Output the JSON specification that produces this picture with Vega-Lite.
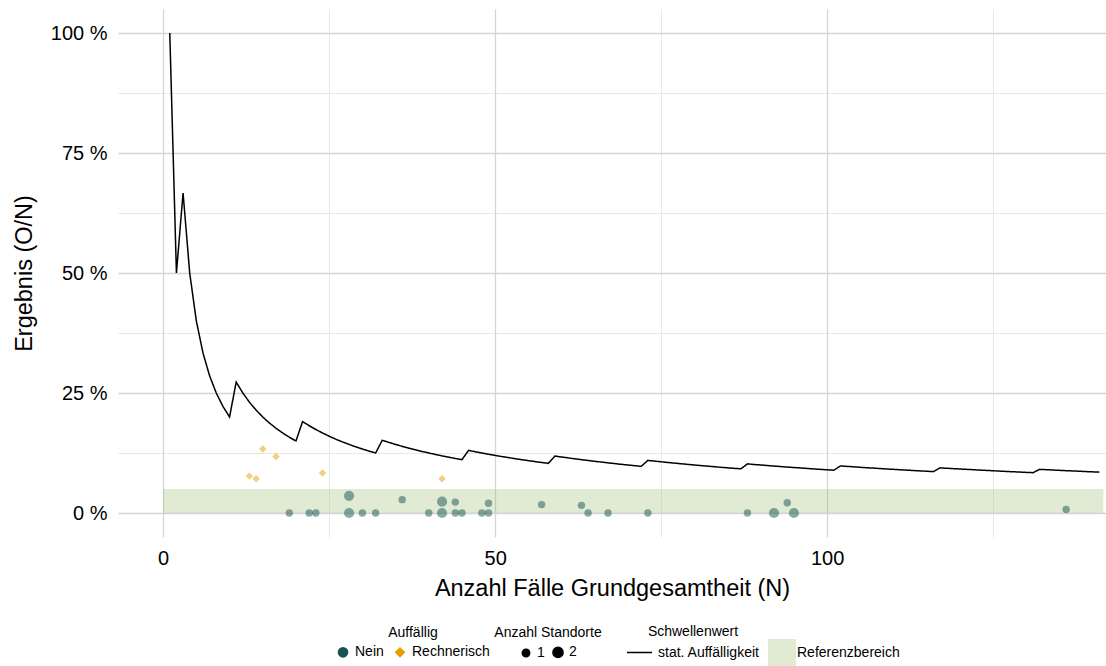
{
  "$schema": "https://vega.github.io/schema/vega-lite/v6.json",
  "width": 988,
  "height": 528,
  "autosize": {"type": "none"},
  "padding": {"left": 118, "top": 9, "right": 0, "bottom": 129},
  "background": "white",
  "config": {
    "view": {"stroke": null},
    "font": "Liberation Sans",
    "axis": {
      "domain": false, "ticks": false,
      "labelFont": "Liberation Sans", "titleFont": "Liberation Sans",
      "labelFontSize": 20, "titleFontSize": 23.5, "titleFontWeight": "normal",
      "labelColor": "#000000", "titleColor": "#000000"
    },
    "legend": {
      "labelFont": "Liberation Sans", "titleFont": "Liberation Sans",
      "labelFontSize": 14, "titleFontSize": 14, "titleFontWeight": "normal",
      "labelColor": "#000000", "titleColor": "#000000",
      "orient": "none", "direction": "horizontal"
    }
  },
  "datasets": {
    "band": [{"N": 0, "N2": 141.6, "p": 0, "p2": 0.05, "ref": "Referenzbereich"}],
    "schwelle": [
      {"N":1,"p":1},{"N":2,"p":0.5},{"N":3,"p":0.6667},{"N":4,"p":0.5},{"N":5,"p":0.4},{"N":6,"p":0.3333},{"N":7,"p":0.2857},{"N":8,"p":0.25},{"N":9,"p":0.2222},{"N":10,"p":0.2},
      {"N":11,"p":0.2727},{"N":12,"p":0.25},{"N":13,"p":0.2308},{"N":14,"p":0.2143},{"N":15,"p":0.2},{"N":16,"p":0.1875},{"N":17,"p":0.1765},{"N":18,"p":0.1667},{"N":19,"p":0.1579},{"N":20,"p":0.15},
      {"N":21,"p":0.1905},{"N":22,"p":0.1818},{"N":23,"p":0.1739},{"N":24,"p":0.1667},{"N":25,"p":0.16},{"N":26,"p":0.1538},{"N":27,"p":0.1481},{"N":28,"p":0.1429},{"N":29,"p":0.1379},{"N":30,"p":0.1333},{"N":31,"p":0.129},{"N":32,"p":0.125},
      {"N":33,"p":0.1515},{"N":34,"p":0.1471},{"N":35,"p":0.1429},{"N":36,"p":0.1389},{"N":37,"p":0.1351},{"N":38,"p":0.1316},{"N":39,"p":0.1282},{"N":40,"p":0.125},{"N":41,"p":0.122},{"N":42,"p":0.119},{"N":43,"p":0.1163},{"N":44,"p":0.1136},{"N":45,"p":0.1111},
      {"N":46,"p":0.1304},{"N":47,"p":0.1277},{"N":48,"p":0.125},{"N":49,"p":0.1224},{"N":50,"p":0.12},{"N":51,"p":0.1176},{"N":52,"p":0.1154},{"N":53,"p":0.1132},{"N":54,"p":0.1111},{"N":55,"p":0.1091},{"N":56,"p":0.1071},{"N":57,"p":0.1053},{"N":58,"p":0.1034},
      {"N":59,"p":0.1186},{"N":60,"p":0.1167},{"N":61,"p":0.1148},{"N":62,"p":0.1129},{"N":63,"p":0.1111},{"N":64,"p":0.1094},{"N":65,"p":0.1077},{"N":66,"p":0.1061},{"N":67,"p":0.1045},{"N":68,"p":0.1029},{"N":69,"p":0.1014},{"N":70,"p":0.1},{"N":71,"p":0.0986},{"N":72,"p":0.0972},
      {"N":73,"p":0.1096},{"N":74,"p":0.1081},{"N":75,"p":0.1067},{"N":76,"p":0.1053},{"N":77,"p":0.1039},{"N":78,"p":0.1026},{"N":79,"p":0.1013},{"N":80,"p":0.1},{"N":81,"p":0.0988},{"N":82,"p":0.0976},{"N":83,"p":0.0964},{"N":84,"p":0.0952},{"N":85,"p":0.0941},{"N":86,"p":0.093},{"N":87,"p":0.092},
      {"N":88,"p":0.1023},{"N":89,"p":0.1011},{"N":90,"p":0.1},{"N":91,"p":0.0989},{"N":92,"p":0.0978},{"N":93,"p":0.0968},{"N":94,"p":0.0957},{"N":95,"p":0.0947},{"N":96,"p":0.0938},{"N":97,"p":0.0928},{"N":98,"p":0.0918},{"N":99,"p":0.0909},{"N":100,"p":0.09},{"N":101,"p":0.0891},
      {"N":102,"p":0.098},{"N":103,"p":0.0971},{"N":104,"p":0.0962},{"N":105,"p":0.0952},{"N":106,"p":0.0943},{"N":107,"p":0.0935},{"N":108,"p":0.0926},{"N":109,"p":0.0917},{"N":110,"p":0.0909},{"N":111,"p":0.0901},{"N":112,"p":0.0893},{"N":113,"p":0.0885},{"N":114,"p":0.0877},{"N":115,"p":0.087},{"N":116,"p":0.0862},
      {"N":117,"p":0.094},{"N":118,"p":0.0932},{"N":119,"p":0.0924},{"N":120,"p":0.0917},{"N":121,"p":0.0909},{"N":122,"p":0.0902},{"N":123,"p":0.0894},{"N":124,"p":0.0887},{"N":125,"p":0.088},{"N":126,"p":0.0873},{"N":127,"p":0.0866},{"N":128,"p":0.0859},{"N":129,"p":0.0853},{"N":130,"p":0.0846},{"N":131,"p":0.084},
      {"N":132,"p":0.0909},{"N":133,"p":0.0902},{"N":134,"p":0.0896},{"N":135,"p":0.0889},{"N":136,"p":0.0882},{"N":137,"p":0.0876},{"N":138,"p":0.087},{"N":139,"p":0.0863},{"N":140,"p":0.0857},{"N":141,"p":0.0851}
    ],
    "punkte": [
      {"N":19,"p":0,"auff":"Nein","anz":1},
      {"N":22,"p":0,"auff":"Nein","anz":1},
      {"N":23,"p":0,"auff":"Nein","anz":1},
      {"N":28,"p":0.0357,"auff":"Nein","anz":2},
      {"N":28,"p":0,"auff":"Nein","anz":2},
      {"N":30,"p":0,"auff":"Nein","anz":1},
      {"N":32,"p":0,"auff":"Nein","anz":1},
      {"N":36,"p":0.0278,"auff":"Nein","anz":1},
      {"N":40,"p":0,"auff":"Nein","anz":1},
      {"N":42,"p":0.0238,"auff":"Nein","anz":2},
      {"N":42,"p":0,"auff":"Nein","anz":2},
      {"N":44,"p":0.0227,"auff":"Nein","anz":1},
      {"N":44,"p":0,"auff":"Nein","anz":1},
      {"N":45,"p":0,"auff":"Nein","anz":1},
      {"N":48,"p":0,"auff":"Nein","anz":1},
      {"N":49,"p":0.0204,"auff":"Nein","anz":1},
      {"N":49,"p":0,"auff":"Nein","anz":1},
      {"N":57,"p":0.0175,"auff":"Nein","anz":1},
      {"N":63,"p":0.0159,"auff":"Nein","anz":1},
      {"N":64,"p":0,"auff":"Nein","anz":1},
      {"N":67,"p":0,"auff":"Nein","anz":1},
      {"N":73,"p":0,"auff":"Nein","anz":1},
      {"N":88,"p":0,"auff":"Nein","anz":1},
      {"N":92,"p":0,"auff":"Nein","anz":2},
      {"N":94,"p":0.0213,"auff":"Nein","anz":1},
      {"N":95,"p":0,"auff":"Nein","anz":2},
      {"N":136,"p":0.0074,"auff":"Nein","anz":1},
      {"N":13,"p":0.0769,"auff":"Rechnerisch","anz":1},
      {"N":14,"p":0.0714,"auff":"Rechnerisch","anz":1},
      {"N":15,"p":0.1333,"auff":"Rechnerisch","anz":1},
      {"N":17,"p":0.1176,"auff":"Rechnerisch","anz":1},
      {"N":24,"p":0.0833,"auff":"Rechnerisch","anz":1},
      {"N":42,"p":0.0714,"auff":"Rechnerisch","anz":1}
    ]
  },
  "encoding": {
    "x": {
      "field": "N", "type": "quantitative",
      "scale": {"domain": [-6.8, 142], "nice": false, "zero": false},
      "axis": {
        "title": "Anzahl Fälle Grundgesamtheit (N)",
        "values": [0, 25, 50, 75, 100, 125],
        "labelExpr": "datum.value % 50 === 0 ? datum.label : ''",
        "gridColor": {"condition": {"test": "datum.value % 50 === 0", "value": "#d4d4d4"}, "value": "#dedede"},
        "gridWidth": {"condition": {"test": "datum.value % 50 === 0", "value": 1.3}, "value": 0.7},
        "labelPadding": 11, "titlePadding": 8
      }
    },
    "y": {
      "field": "p", "type": "quantitative",
      "scale": {"domain": [-0.05, 1.05], "nice": false, "zero": false},
      "axis": {
        "title": "Ergebnis (O/N)",
        "values": [0, 0.125, 0.25, 0.375, 0.5, 0.625, 0.75, 0.875, 1],
        "labelExpr": "round(datum.value*1000) % 250 === 0 ? format(datum.value*100, 'd') + ' %' : ''",
        "gridColor": {"condition": {"test": "round(datum.value*1000) % 250 === 0", "value": "#d4d4d4"}, "value": "#dedede"},
        "gridWidth": {"condition": {"test": "round(datum.value*1000) % 250 === 0", "value": 1.3}, "value": 0.7},
        "labelPadding": 11, "titlePadding": 14
      }
    }
  },
  "layer": [
    {
      "data": {"name": "band"},
      "mark": {"type": "rect", "opacity": 0.3},
      "encoding": {
        "x2": {"field": "N2"},
        "y2": {"field": "p2"},
        "fill": {
          "field": "ref", "type": "nominal",
          "scale": {"range": ["#9bbc6c"]},
          "legend": {"title": null, "symbolType": "square", "symbolSize": 784, "symbolOpacity": 0.3, "symbolStrokeWidth": 0, "labelOffset": 1, "legendX": 650, "legendY": 630}
        }
      }
    },
    {
      "data": {"name": "schwelle"},
      "mark": {"type": "line", "color": "black", "strokeWidth": 1.5},
      "encoding": {
        "strokeDash": {
          "datum": "stat. Auffälligkeit", "type": "nominal",
          "scale": {"range": [[1, 0]]},
          "legend": {"title": "Schwellenwert", "symbolType": "stroke", "symbolSize": 625, "symbolStrokeColor": "black", "symbolStrokeWidth": 1.5, "labelOffset": 5, "titleAnchor": "middle", "titlePadding": 0, "legendX": 508, "legendY": 616}
        }
      }
    },
    {
      "data": {"name": "punkte"},
      "mark": {"type": "point", "filled": true, "opacity": 0.5},
      "encoding": {
        "color": {
          "field": "auff", "type": "nominal",
          "scale": {"domain": ["Nein", "Rechnerisch"], "range": ["#165453", "#e69f00"]},
          "legend": {"title": "Auffällig", "symbolOpacity": 1, "symbolSize": 115, "labelOffset": 5, "columnPadding": 7, "titleAnchor": "middle", "legendX": 218, "legendY": 617}
        },
        "shape": {
          "field": "auff", "type": "nominal",
          "scale": {"domain": ["Nein", "Rechnerisch"], "range": ["circle", "diamond"]},
          "legend": {"title": "Auffällig", "symbolOpacity": 1, "symbolSize": 115, "labelOffset": 5, "columnPadding": 7, "titleAnchor": "middle", "legendX": 218, "legendY": 617}
        },
        "size": {
          "field": "anz", "type": "ordinal",
          "scale": {"domain": [1, 2], "range": [55, 104]},
          "legend": {"title": "Anzahl Standorte", "symbolType": "circle", "symbolFillColor": "black", "symbolStrokeColor": "black", "symbolOpacity": 1, "labelOffset": 4, "columnPadding": 4, "titleAnchor": "middle", "legendX": 376, "legendY": 617}
        }
      }
    }
  ]
}
